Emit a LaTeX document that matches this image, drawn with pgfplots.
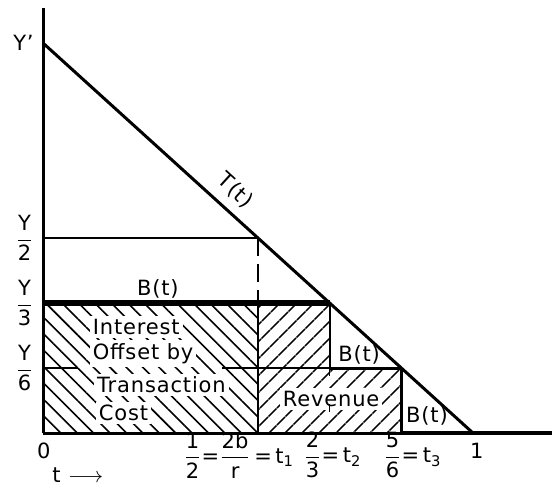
\documentclass[border=0pt]{standalone}
\usepackage{amsmath}
\usepackage{fontspec}
\setmainfont[LetterSpace=4]{DejaVu Sans}
\newfontfamily\tight{DejaVu Sans}
\usepackage{pgfplots}
\pgfplotsset{compat=1.18}
\usetikzlibrary{patterns.meta}

% T(t) = Y(1-t), with Y = 1; steps of B(t) at t1 = 1/2, t2 = 2/3, t3 = 5/6
\newcommand{\fr}[2]{\dfrac{\mbox{#1}}{\mbox{#2}}}

\begin{document}
\fontsize{10.5}{12.6}\selectfont
\begin{tikzpicture}
\begin{axis}[
    x=215pt, y=195pt,
    xmin=0, xmax=1.1837, ymin=0, ymax=1.09,
    axis lines=left,
    axis line style={-, line width=1.5pt},
    xtick=\empty,
    ytick={0.16667,0.33333,0.5,1},
    yticklabels={$\fr{Y}{6}$, $\fr{Y}{3}$, $\fr{Y}{2}$, Y’},
    major tick length=0pt,
    yticklabel style={xshift=-1pt},
    clip=false,
]
% hatched areas
\addplot[draw=none, pattern={Lines[angle=-45, distance=5.8pt, line width=0.8pt]}]
    coordinates {(0,0) (0,0.33333) (0.5,0.33333) (0.5,0)} -- cycle;
\addplot[draw=none, pattern={Lines[angle=45, distance=6.5pt, line width=0.8pt]}]
    coordinates {(0.5,0) (0.5,0.33333) (0.66667,0.33333) (0.66667,0.16667)
                 (0.83333,0.16667) (0.83333,0)} -- cycle;

% labels inside the areas
\node[fill=white, inner sep=1.5pt, anchor=west] at (axis cs:0.108,0.272) {Interest};
\node[fill=white, inner sep=1.5pt, anchor=west] at (axis cs:0.108,0.204) {Offset by};
\node[fill=white, inner sep=1.5pt, anchor=west] at (axis cs:0.118,0.123) {Transaction};
\node[fill=white, inner sep=1.5pt, anchor=west] at (axis cs:0.122,0.051) {Cost};
\node[fill=white, inner sep=1.5pt] at (axis cs:0.670,0.087) {Revenue};

% T(t)
\addplot[black, line width=1.5pt] coordinates {(0,1) (1,0)};
% Y/2 guide
\addplot[black, line width=1pt] coordinates {(0,0.5) (0.5,0.5)};
\addplot[black, line width=1pt, dash pattern=on 9pt off 4pt] coordinates {(0.5,0.5) (0.5,0.33333)};
% B(t) steps
\addplot[black, line width=2.6pt] coordinates {(0,0.33333) (0.66667,0.33333)};
\addplot[black, line width=1pt] coordinates {(0.5,0.33333) (0.5,0)};
\addplot[black, line width=1pt] coordinates {(0.66667,0.33333) (0.66667,0.16667)};
\addplot[black, line width=0.5pt, dash pattern=on 4pt off 14pt] coordinates {(0.66667,0.16667) (0.66667,0)};
\addplot[black, line width=1pt] coordinates {(0,0.16667) (0.081,0.16667)};
\addplot[black, line width=1pt] coordinates {(0.416,0.16667) (0.66667,0.16667)};
\addplot[black, line width=1.5pt] coordinates {(0.66667,0.16667) (0.83333,0.16667)};
\addplot[black, line width=1.2pt] coordinates {(0.83333,0.16667) (0.83333,0)};
\addplot[black, line width=2.4pt] coordinates {(0.83333,0) (1.1837,0)};

\node[rotate=-42.3] at (axis cs:0.447,0.622) {T(t)};
\node at (axis cs:0.267,0.369) {B(t)};
\node at (axis cs:0.735,0.200) {B(t)};
\node at (axis cs:0.893,0.043) {B(t)};

% x labels
\node at (axis cs:0.002,-0.046) {0};
\node[anchor=west, inner sep=0pt, font=\tight] at (axis cs:0.326,-0.057)
    {$\fr{1}{2}\mbox{=}\fr{2b}{r}\mbox{\,=\,t\textsubscript{1}}$};
\node[anchor=west, inner sep=0pt, font=\tight] at (axis cs:0.605,-0.057)
    {$\fr{2}{3}\mbox{=\,t\textsubscript{2}}$};
\node[anchor=west, inner sep=0pt, font=\tight] at (axis cs:0.791,-0.057)
    {$\fr{5}{6}\mbox{=\,t\textsubscript{3}}$};
\node at (axis cs:1.009,-0.046) {1};
\node at (axis cs:0.081,-0.109) {t $\longrightarrow$};

\coordinate (ll) at (axis cs:-0.1,-0.1385);
\coordinate (ur) at (axis cs:1.1837,1.1103);
\end{axis}
\pgfresetboundingbox
\path[use as bounding box] (ll) rectangle (ur);
\end{tikzpicture}
\end{document}
